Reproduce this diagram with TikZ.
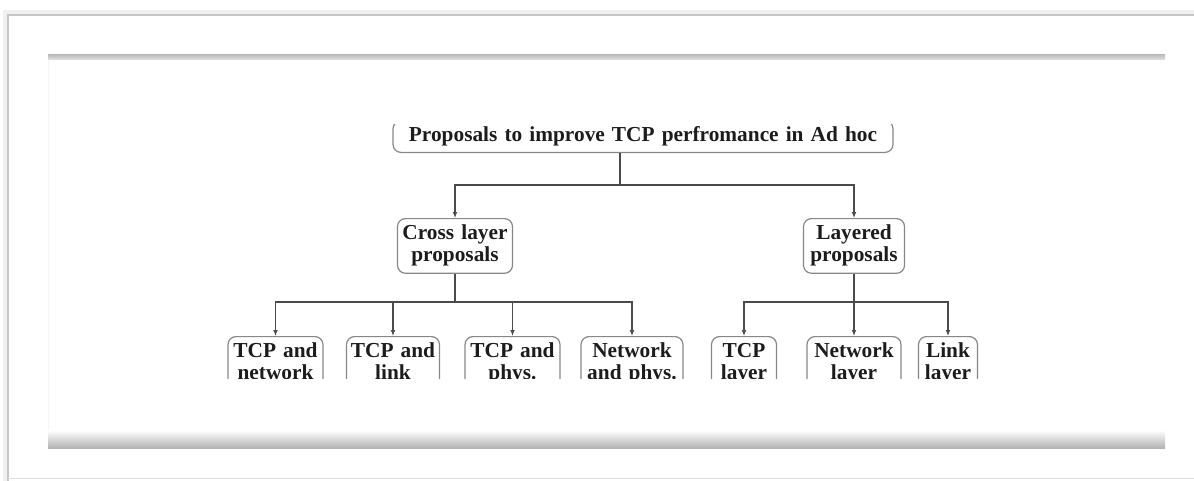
\documentclass[tikz,border=0pt]{standalone}
\usepackage{fontspec}
\setmainfont{Liberation Serif}
\usetikzlibrary{arrows.meta}

\definecolor{boxline}{RGB}{135,135,135}
\definecolor{linkline}{RGB}{75,75,75}
\definecolor{txt}{RGB}{28,28,28}

\tikzset{every picture/.style={line width=0.75pt}}
\tikzset{
  propbox/.style={draw=boxline, line width=0.9pt, rounded corners=6pt, align=center,
    font=\fontsize{16}{16.5}\selectfont\bfseries, text=txt, text width=#1,
    inner xsep=0pt, inner ysep=4pt},
  twoline/.style={minimum height=40.5pt, anchor=north},
  link/.style={draw=linkline, line width=0.8pt},
  arr/.style={link, -{Latex[length=4.5pt,width=3.6pt]}}
}

\begin{document}
\begin{tikzpicture}[x=0.75pt,y=0.75pt,yscale=-1,xscale=1]
	\useasboundingbox (0,0) rectangle (1194,481);

	%Page frame
	\draw [gray!12, line width=3pt] (4.5,481) -- (4.5,12.5) -- (1194,12.5) ;
	\draw [gray!45, line width=1.1pt] (8,481) -- (8,15) -- (1194,15) ;
	\draw [gray!25] (8,478) -- (1194,478) ;
	%Top rule
	\shade [top color=gray!50, bottom color=gray!25] (48,55) rectangle (1165,59.5) ;
	\draw [gray!8] (48,60) -- (48,430) ;
	%Bottom rule
	\shade [top color=white, bottom color=gray!60] (48,430) rectangle (1165,448) ;

	\begin{scope}
	\clip (48,125) rectangle (1165,378);
	% Root
	\node [propbox=375pt, anchor=south, inner ysep=4.5pt] (root) at (643,153) {Proposals to improve TCP perfromance in Ad hoc};
	% Second level
	\node [propbox=86.25pt, twoline] (cross) at (455,218) {\strut Cross layer\\proposals\strut};
	\node [propbox=75.75pt, twoline] (layered) at (854,218) {\strut Layered\\proposals\strut};
	% Cross layer proposals
	\node [propbox=71.25pt, twoline] (tn) at (275.5,336) {\strut TCP and\\network\strut};
	\node [propbox=69.75pt, twoline] (tl) at (393,336) {\strut TCP and\\link\strut};
	\node [propbox=71.25pt, twoline] (tp) at (512.5,336) {\strut TCP and\\phys.\strut};
	\node [propbox=76.5pt, twoline] (np) at (632,336) {\strut Network\\and phys.\strut};
	% Layered proposals
	\node [propbox=48.75pt, twoline] (tcpl) at (744,336) {\strut TCP\\layer\strut};
	\node [propbox=70.5pt, twoline] (netl) at (854,336) {\strut Network\\layer\strut};
	\node [propbox=44.25pt, twoline] (linkl) at (948,336) {\strut Link\\layer\strut};

	% Connectors
	\coordinate (rootbus) at (620,185);
	\draw [link] (root.south -| rootbus) -- (rootbus) ;
	\draw [arr] (rootbus) -| (cross) ;
	\draw [arr] (rootbus) -| (layered) ;
	\coordinate (crossbus) at (455,302);
	\draw [link] (cross) -- (crossbus) ;
	\foreach \n in {tn,tl,tp,np} \draw [arr] (crossbus) -| (\n) ;
	\coordinate (layeredbus) at (854,302);
	\draw [link] (layered) -- (layeredbus) ;
	\foreach \n in {tcpl,netl,linkl} \draw [arr] (layeredbus) -| (\n) ;
	\end{scope}
\end{tikzpicture}
\end{document}
